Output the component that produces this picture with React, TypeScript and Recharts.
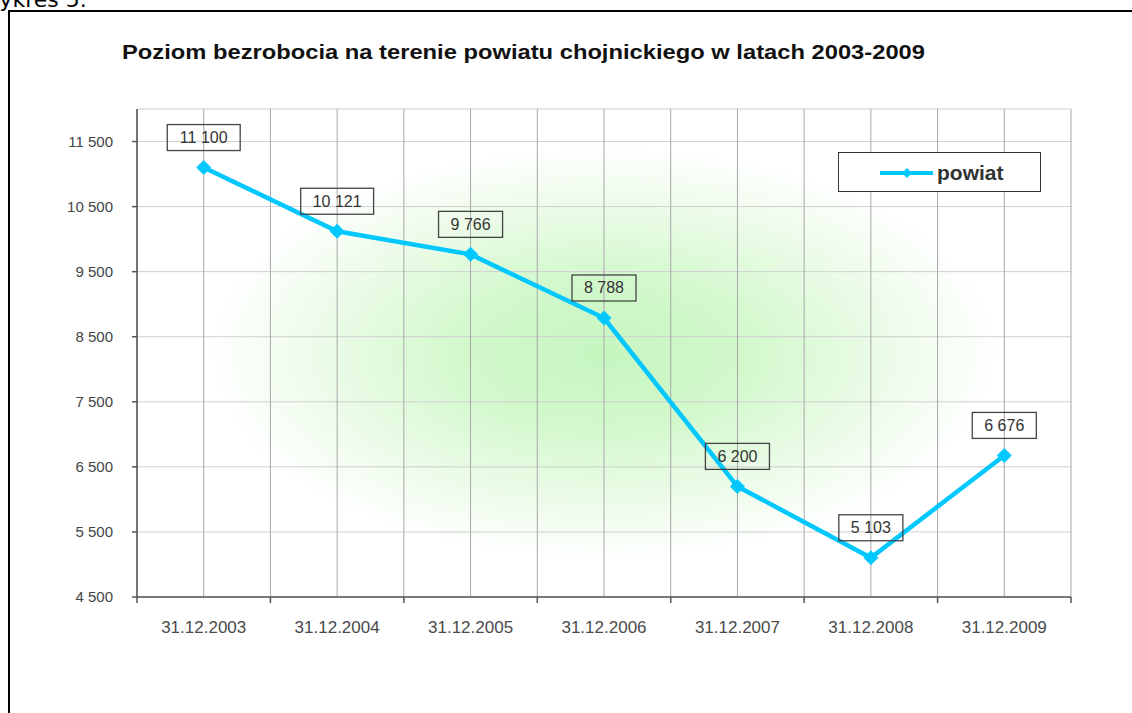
import { LineChart, Line, XAxis, YAxis, CartesianGrid, Legend, LabelList } from "recharts";

const categories = [
  "31.12.2003",
  "31.12.2004",
  "31.12.2005",
  "31.12.2006",
  "31.12.2007",
  "31.12.2008",
  "31.12.2009",
];
const values = [11100, 10121, 9766, 8788, 6200, 5103, 6676];
const yTicks = [4500, 5500, 6500, 7500, 8500, 9500, 10500, 11500];
const seriesName = "powiat";
const title = "Poziom bezrobocia na terenie powiatu chojnickiego w latach 2003-2009";
const caption = "Wykres 5.";

const FONT = "'Liberation Sans', Arial, sans-serif";
const LINE_COLOR = "#00c8ff";

const data = categories.map((c, i) => ({ x: i, label: c, value: values[i] }));

// ticks at category centres (labels) and category boundaries (tick marks)
const xTicks: number[] = [];
for (let i = -0.5; i <= categories.length - 0.5; i += 0.5) xTicks.push(i);

const fmt = (n: number) => String(n).replace(/\B(?=(\d{3})+(?!\d))/g, " ");

const textWidth = (s: string, fs: number) =>
  s.split("").reduce((w, ch) => w + (ch === " " ? 0.278 : 0.556) * fs, 0);

const XTick = ({ x, y, payload }: any) => {
  const v = payload.value;
  if (Number.isInteger(v)) {
    return (
      <text x={x} y={y + 36} textAnchor="middle" fontSize={17} fill="#4a4a4a" fontFamily={FONT}>
        {categories[v]}
      </text>
    );
  }
  return <line x1={x} x2={x} y1={y} y2={y + 6} stroke="#555" strokeWidth={1.5} />;
};

const Diamond = ({ cx, cy, index }: any) => {
  const r = 7.5;
  return (
    <polygon
      key={`dot-${index}`}
      points={`${cx},${cy - r} ${cx + r},${cy} ${cx},${cy + r} ${cx - r},${cy}`}
      fill={LINE_COLOR}
    />
  );
};

const renderLabel = ({ x, y, value }: any) => {
  const s = fmt(value);
  const fs = 16;
  const w = textWidth(s, fs) + 24;
  const h = 26;
  const top = y - 17 - h;
  return (
    <g>
      <rect x={x - w / 2} y={top} width={w} height={h} fill="none" stroke="#444" strokeWidth={1.3} />
      <text x={x} y={top + h / 2 + 5.5} textAnchor="middle" fontSize={fs} fill="#333" fontFamily={FONT}>
        {s}
      </text>
    </g>
  );
};

const renderLegend = () => (
  <div
    style={{
      width: 203,
      height: 40,
      boxSizing: "border-box",
      border: "1.5px solid #333",
      background: "#fff",
    }}
  >
    <svg width={200} height={37} style={{ display: "block" }}>
      <line x1={41} x2={94} y1={20} y2={20} stroke={LINE_COLOR} strokeWidth={4} />
      <polygon points="68,15 73,20 68,25 63,20" fill={LINE_COLOR} />
      <text x={98} y={27} fontSize={21} fontWeight="bold" fill="#333" fontFamily={FONT}>
        {seriesName}
      </text>
    </svg>
  </div>
);

export default function App() {
  return (
    <div
      style={{
        position: "absolute",
        left: 0,
        top: 0,
        width: 1132,
        height: 713,
        overflow: "hidden",
        background: "#fff",
      }}
    >
      <div
        style={{
          position: "absolute",
          left: 8,
          top: 10,
          width: 1300,
          height: 900,
          border: "2px solid #000",
          boxSizing: "border-box",
        }}
      />
      <div style={{ position: "absolute", left: 0, top: 0 }}>
        <LineChart width={1132} height={713} data={data} margin={{ top: 109, right: 61, bottom: 0, left: 0 }}>
          <defs>
            <radialGradient id="plotBg" cx="0.5" cy="0.5" r="0.5">
              <stop offset="0%" stopColor="#c6f6c0" />
              <stop offset="30%" stopColor="#d2f8cc" />
              <stop offset="62%" stopColor="#edfcea" />
              <stop offset="85%" stopColor="#ffffff" />
              <stop offset="100%" stopColor="#ffffff" />
            </radialGradient>
          </defs>
          <CartesianGrid vertical={false} stroke="#cfcfcf" fill="url(#plotBg)" fillOpacity={1} />
          <CartesianGrid horizontal={false} stroke="#a8a8a8" />
          <XAxis
            type="number"
            dataKey="x"
            domain={[-0.5, categories.length - 0.5]}
            ticks={xTicks}
            interval={0}
            height={116}
            tickSize={0}
            tickMargin={0}
            tickLine={false}
            tick={<XTick />}
            axisLine={{ stroke: "#555", strokeWidth: 1.5 }}
          />
          <YAxis
            type="number"
            domain={[4500, 12000]}
            ticks={yTicks}
            interval={0}
            width={137}
            tickSize={5}
            tickMargin={19}
            tickFormatter={fmt}
            tick={{ fontSize: 15, fill: "#444", fontFamily: FONT }}
            tickLine={{ stroke: "#555", strokeWidth: 1.5 }}
            axisLine={{ stroke: "#555", strokeWidth: 1.5 }}
          />
          <Legend
            layout="horizontal"
            verticalAlign="middle"
            align="center"
            content={renderLegend}
            wrapperStyle={{ left: 838, top: 152, width: 203, height: 40 }}
          />
          <Line
            type="linear"
            dataKey="value"
            name={seriesName}
            stroke={LINE_COLOR}
            strokeWidth={4.5}
            dot={<Diamond />}
            activeDot={false}
            isAnimationActive={false}
          >
            <LabelList dataKey="value" content={renderLabel} />
          </Line>
        </LineChart>
      </div>
      <svg width={1132} height={80} style={{ position: "absolute", left: 0, top: 0 }}>
        <text x={-22} y={7} fontSize={22} fill="#000" fontFamily="'DejaVu Sans', Verdana, sans-serif">
          {caption}
        </text>
        <text
          x={122}
          y={59}
          fontSize={20}
          fontWeight="bold"
          fill="#111"
          fontFamily={FONT}
          textLength={803}
          lengthAdjust="spacingAndGlyphs"
        >
          {title}
        </text>
      </svg>
    </div>
  );
}
